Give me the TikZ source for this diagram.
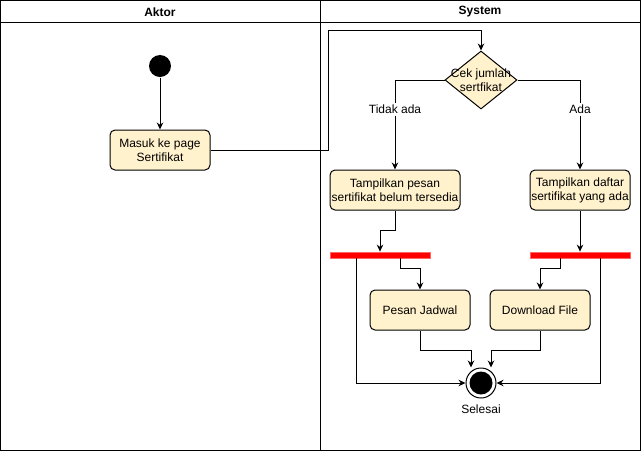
\documentclass[tikz,border=0pt]{standalone}
\usepackage{fontspec}
\setmainfont{Liberation Sans}
\usetikzlibrary{shapes.geometric,arrows.meta}
\definecolor{actfill}{HTML}{FFF2CC}
\definecolor{barred}{HTML}{FF0000}
\definecolor{baredge}{HTML}{FF6666}
\begin{document}
\begin{tikzpicture}[x=1pt,y=-1pt,line width=1pt,
  font=\fontsize{12}{14}\selectfont,
  act/.style={draw,fill=actfill,rounded corners=5pt,align=center,inner sep=1pt},
  bar/.style={draw=baredge,fill=barred,minimum width=100pt,minimum height=6pt,inner sep=0pt,line width=0.8pt},
  flow/.style={draw,-{Stealth[length=7pt,width=6.5pt]}},
  edgelabel/.style={fill=white,inner sep=2pt}]
\useasboundingbox (0,0) rectangle (641,451);
% swimlanes
\draw (0.5,0.5) rectangle (640.5,450.5);
\draw (0.5,22) -- (640.5,22);
\draw (320,0.5) -- (320,450.5);
\node[font=\fontsize{12}{14}\selectfont\bfseries] (hA) at (160,12) {Aktor};
\node[font=\fontsize{12}{14}\selectfont\bfseries] (hS) at (480,12) {System};
% nodes
\node[circle,fill=black,minimum size=22pt,inner sep=0pt] (start) at (160,66) {};
\node[act,minimum width=100pt,minimum height=40pt] (masuk) at (160,150) {Masuk ke page\\Sertifikat};
\node[diamond,draw,fill=actfill,minimum width=72pt,minimum height=58pt,inner sep=0pt] (cek) at (481,80) {};
\node[align=center,inner sep=0pt] (cektxt) at (481,80) {Cek jumlah\\sertfikat};
\node[act,minimum width=130pt,minimum height=40pt] (pesan) at (395,190) {Tampilkan pesan\\sertifikat belum tersedia};
\node[act,minimum width=100pt,minimum height=40pt] (daftar) at (580,190) {Tampilkan daftar\\sertifikat yang ada};
\node[bar] (bar1) at (380,255) {};
\node[bar] (bar2) at (580,255) {};
\node[act,minimum width=100pt,minimum height=40pt] (jadwal) at (420,310) {Pesan Jadwal};
\node[act,minimum width=100pt,minimum height=40pt] (dl) at (540,310) {Download File};
\node[circle,draw,fill=white,minimum size=30pt,inner sep=0pt] (fin) at (481,383) {};
\node[circle,fill=black,minimum size=23pt,inner sep=0pt] (fininner) at (481,383) {};
\node (sel) at (481,409) {Selesai};
% connectors
\draw[flow] (start) -- (masuk);
\draw[flow] (masuk.east) -- (328,150) -- (328,30) -- (481,30) -- (cek.north);
\draw[flow] (cek.west) -- (395,80) -- node[edgelabel,pos=0.33]{Tidak ada} (pesan.north);
\draw[flow] (cek.east) -- (580,80) -- node[edgelabel,pos=0.33]{Ada} (daftar.north);
\draw[flow] (pesan.south) -- (395,230) -- (380,230) -- (bar1.north);
\draw[flow] (daftar.south) -- (bar2.north);
\draw[flow] (bar1.south -| 400,0) -- (400,268) -- (420,268) -- (jadwal.north);
\draw[flow] (bar2.south -| 560,0) -- (560,268) -- (540,268) -- (dl.north);
\draw[flow] (bar1.south -| 356,0) -- (356,383) -- (fin.west);
\draw[flow] (bar2.south -| 600,0) -- (600,383) -- (fin.east);
\draw[flow] (jadwal.south) -- (420,350) -- (471,350) -- (fin.north -| 471,0);
\draw[flow] (dl.south) -- (540,350) -- (491,350) -- (fin.north -| 491,0);
\end{tikzpicture}
\end{document}
